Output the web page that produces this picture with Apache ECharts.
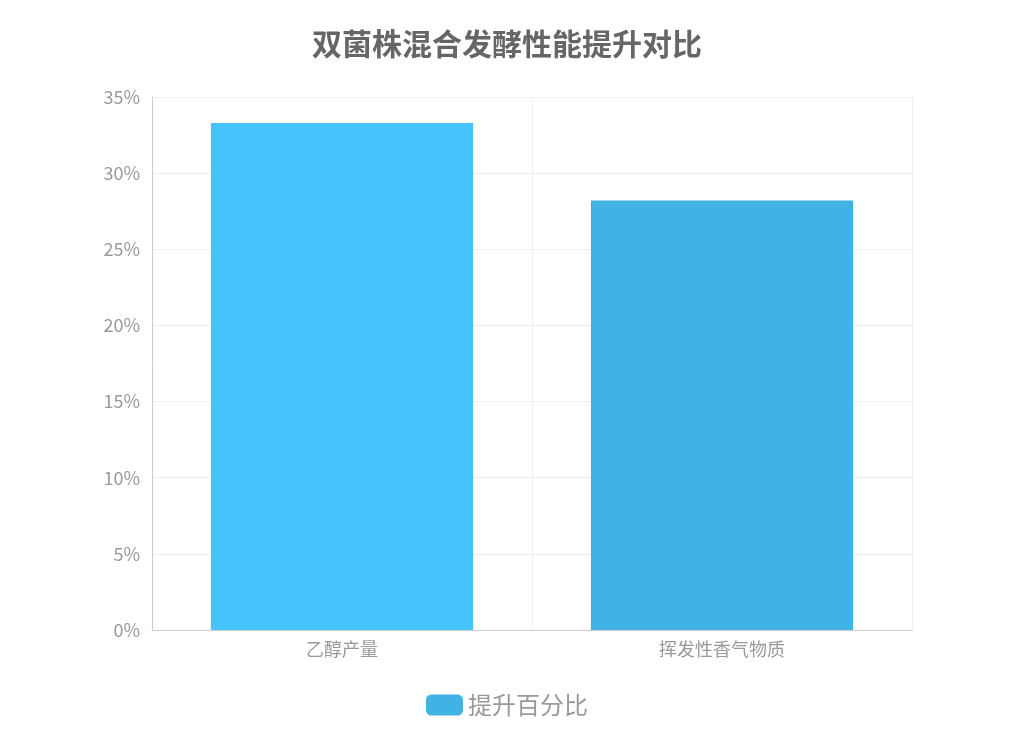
<!DOCTYPE html>
<html><head><meta charset="utf-8">
<script src="https://cdn.jsdelivr.net/npm/echarts@6/dist/echarts.min.js"></script>
<style>html,body{margin:0;padding:0;background:#fff}#c{width:1014px;height:750px}</style>
</head><body><div id="c"></div>
<script>
const categories = ['乙醇产量', '挥发性香气物质'];
const values = [33.3, 28.2];
const barColors = ['#45C3FC', '#40B2E3'];
const seriesName = '提升百分比';
const titleText = '双菌株混合发酵性能提升对比';

const font = '"Noto Sans CJK SC", "Noto Sans", sans-serif';
const chart = echarts.init(document.getElementById('c'));
chart.setOption({
  animation: false,
  title: { text: titleText, left: 'center', top: 24,
    textStyle: { fontSize: 30, fontWeight: 'bold', color: '#666', fontFamily: font } },
  legend: { bottom: 28, left: 'center', itemWidth: 37, itemHeight: 21, itemGap: 8,
    textStyle: { fontSize: 24, color: '#999', fontFamily: font }, data: [seriesName] },
  grid: { left: 152, right: 102, top: 97, bottom: 120 },
  xAxis: { type: 'category', data: categories,
    axisLine: { lineStyle: { color: '#ccc' } }, axisTick: { show: false },
    splitLine: { show: true, lineStyle: { color: '#eee' } },
    axisLabel: { fontSize: 18, color: '#999', fontFamily: font, margin: 10 } },
  yAxis: { type: 'value', min: 0, max: 35, interval: 5,
    axisLine: { show: true, lineStyle: { color: '#ccc' } }, axisTick: { show: false },
    splitLine: { lineStyle: { color: '#eee' } },
    axisLabel: { formatter: '{value}%', fontSize: 18, color: '#999', fontFamily: font, margin: 12 } },
  series: [{ name: seriesName, type: 'bar', barWidth: '69%', color: barColors[1],
    data: values.map((v, i) => ({ value: v, itemStyle: { color: barColors[i] } })) }]
});
</script></body></html>
